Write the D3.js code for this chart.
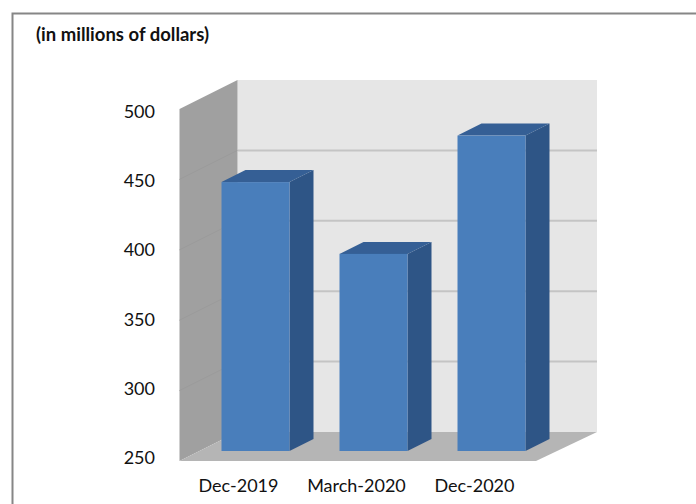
<!DOCTYPE html>
<html>
<head>
<meta charset="utf-8">
<script src="https://cdn.jsdelivr.net/npm/d3@7"></script>
<style>
  html, body { margin: 0; padding: 0; background: #fff; }
  text { font-family: Lato, "Open Sans", sans-serif; fill: #111; }
</style>
</head>
<body>
<div id="graphic"></div>
<script>
// Pseudo-3D column chart: the value and category scales live on the front
// plane, and depth is a fixed screen offset.
const categories = ['Dec-2019', 'March-2020', 'Dec-2020'];
const values = [441, 390, 474];
const yTicks = [250, 300, 350, 400, 450, 500];
const unitLabel = '(in millions of dollars)';

const width = 696;
const height = 504;
const depth = { dx: 58, dy: -29 };
const barOffset = { dx: 17, dy: -10 };
const barDepth = { dx: 24, dy: -12 };

const svg = d3.select('#graphic').append('svg').attr('width', width).attr('height', height).style('display', 'block');

const x = d3.scaleBand().domain(categories).range([179.5, 533.5]);
const y = d3.scaleLinear().domain([250, 500]).range([461, 109]);
const barWidth = 68;
const plotRight = 536;

const poly = (pts) => pts.map((p) => p.join(',')).join(' ');

// the source is a slightly soft screenshot
svg
  .append('defs')
  .append('filter')
  .attr('id', 'soft')
  .append('feGaussianBlur')
  .attr('stdDeviation', 0.6);

// frame runs off the right and bottom edges of the crop
svg
  .append('path')
  .attr('d', `M12.5,${height}V13.5H${width}`)
  .attr('fill', 'none')
  .attr('stroke', '#868686')
  .attr('stroke-width', 2);

svg.append('text').attr('x', 36).attr('y', 41).attr('font-size', 18.5).attr('font-weight', 700).text(unitLabel);

const chart = svg.append('g').attr('filter', 'url(#soft)');

const x0 = x.range()[0];
const yBase = y(250);
const yTop = y(500);

// walls and floor
chart
  .append('polygon')
  .attr('points', poly([[x0 + depth.dx, yTop + depth.dy], [plotRight + depth.dx + 3, yTop + depth.dy], [plotRight + depth.dx + 3, yBase + depth.dy], [x0 + depth.dx, yBase + depth.dy]]))
  .attr('fill', '#e6e6e6');
chart
  .append('polygon')
  .attr('points', poly([[x0, yTop], [x0 + depth.dx, yTop + depth.dy], [x0 + depth.dx, yBase + depth.dy], [x0, yBase]]))
  .attr('fill', '#a0a0a0');
chart
  .append('polygon')
  .attr('points', poly([[x0, yBase], [x0 + depth.dx, yBase + depth.dy], [plotRight + depth.dx + 3, yBase + depth.dy], [plotRight, yBase]]))
  .attr('fill', '#b5b5b5');

// gridlines on back and side walls
const gridTicks = yTicks.filter((d) => d > 250 && d < 500);
chart
  .selectAll('line.back-grid')
  .data(gridTicks)
  .join('line')
  .attr('class', 'back-grid')
  .attr('x1', x0 + depth.dx)
  .attr('x2', plotRight + depth.dx + 3)
  .attr('y1', (d) => y(d) + depth.dy)
  .attr('y2', (d) => y(d) + depth.dy)
  .attr('stroke', '#c4c4c4')
  .attr('stroke-width', 2);
chart
  .selectAll('line.side-grid')
  .data(gridTicks)
  .join('line')
  .attr('class', 'side-grid')
  .attr('x1', x0)
  .attr('x2', x0 + depth.dx)
  .attr('y1', (d) => y(d))
  .attr('y2', (d) => y(d) + depth.dy)
  .attr('stroke', '#9b9b9b')
  .attr('stroke-width', 1);

// columns
const bars = chart
  .selectAll('g.bar')
  .data(categories.map((c, i) => ({ c, v: values[i] })))
  .join('g')
  .attr('class', 'bar')
  .attr('transform', (d) => `translate(${x(d.c) + x.bandwidth() / 2 - barWidth / 2 + barOffset.dx},${barOffset.dy})`);

bars
  .append('polygon')
  .attr('fill', '#2f5486')
  .attr('points', (d) => poly([[barWidth, y(d.v)], [barWidth + barDepth.dx, y(d.v) + barDepth.dy], [barWidth + barDepth.dx, yBase + barDepth.dy], [barWidth, yBase]]));
bars
  .append('polygon')
  .attr('fill', '#345f95')
  .attr('points', (d) => poly([[0, y(d.v)], [barDepth.dx, y(d.v) + barDepth.dy], [barWidth + barDepth.dx, y(d.v) + barDepth.dy], [barWidth, y(d.v)]]));
bars
  .append('rect')
  .attr('fill', '#4a7ebb')
  .attr('y', (d) => y(d.v))
  .attr('width', barWidth)
  .attr('height', (d) => yBase - y(d.v));

// axis labels
const yAxis = d3.scaleLinear().domain([250, 500]).range([457, 111]);
svg
  .selectAll('text.y-label')
  .data(yTicks)
  .join('text')
  .attr('class', 'y-label')
  .attr('x', 155)
  .attr('y', (d) => yAxis(d))
  .attr('text-anchor', 'end')
  .attr('dominant-baseline', 'central')
  .attr('font-size', 18)
  .text((d) => d);

svg
  .selectAll('text.x-label')
  .data(categories)
  .join('text')
  .attr('class', 'x-label')
  .attr('x', (d) => x(d) + x.bandwidth() / 2)
  .attr('y', 492)
  .attr('text-anchor', 'middle')
  .attr('font-size', 18)
  .text((d) => d);
</script>
</body>
</html>
